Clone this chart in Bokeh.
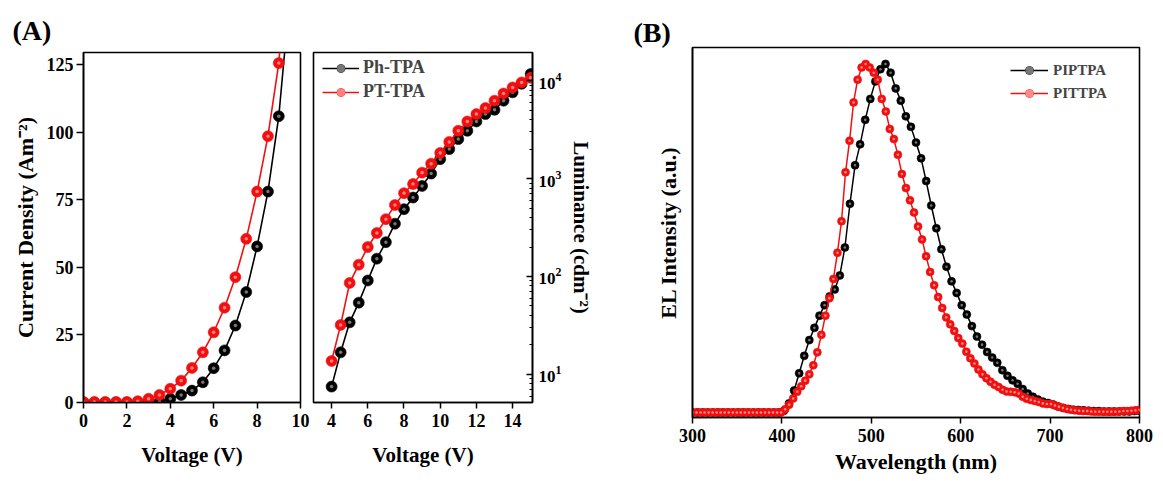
import numpy as np
from bokeh.plotting import figure
from bokeh.layouts import row, column
from bokeh.models import (Legend, LegendItem, SingleIntervalTicker,
                          LogTicker, Range1d, FixedTicker)
from bokeh.embed import file_html
from bokeh.resources import INLINE

FONT = "Liberation Serif"
RED = "#f01010"
BLACK = "#000000"

# ---------------- Panel A (left): current density ----------------
voltage_j = [0.0, 0.5, 1.0, 1.5, 2.0, 2.5, 3.0, 3.5, 4.0, 4.5, 5.0, 5.5,
             6.0, 6.5, 7.0, 7.5, 8.0, 8.5, 9.0, 9.5]
j_ph_tpa = [0.0, 0.0, 0.0, 0.0, 0.0, 0.0, 0.0, 0.3, 1.4, 2.8, 4.4, 7.5,
            12.7, 19.3, 28.5, 40.9, 57.8, 78.1, 106.0, 150.0]
j_pt_tpa = [0.2, 0.2, 0.2, 0.2, 0.2, 0.5, 1.4, 2.8, 5.1, 8.1, 12.8, 18.6,
            26.0, 35.1, 46.4, 60.6, 78.1, 98.6, 125.7, 175.0]

# ---------------- Panel A (right): luminance ----------------
voltage_l = [4.0, 4.5, 5.0, 5.5, 6.0, 6.5, 7.0, 7.5, 8.0, 8.5, 9.0, 9.5,
             10.0, 10.5, 11.0, 11.5, 12.0, 12.5, 13.0, 13.5, 14.0, 14.5, 15.0]
lum_ph_tpa = [7.5, 16.8, 34, 54, 91, 152, 224, 346, 487, 640, 841, 1125,
              1580, 2000, 2530, 3080, 3830, 4560, 5040, 6240, 7600, 9300, 11700]
lum_pt_tpa = [13.7, 32, 86, 132, 200, 278, 385, 537, 710, 880, 1150, 1420,
              1830, 2370, 3080, 3830, 4560, 5250, 6250, 7400, 8530, 9600, 10700]

# ---------------- Panel B: EL spectra ----------------
wl_piptpa = list(np.linspace(300, 800, 89))
el_piptpa = [0.003] * 18 + [
    0.008, 0.029, 0.066, 0.115, 0.165, 0.21, 0.245, 0.28, 0.31, 0.335,
    0.355, 0.395, 0.475, 0.60, 0.71, 0.77, 0.84, 0.90, 0.95, 0.985,
    1.0, 0.975, 0.93, 0.895, 0.85, 0.82, 0.775, 0.73, 0.665, 0.595,
    0.53, 0.47, 0.42, 0.378, 0.345, 0.31, 0.283, 0.25, 0.22, 0.197,
    0.176, 0.16, 0.145, 0.124, 0.108, 0.095, 0.085, 0.07, 0.057, 0.048,
    0.04, 0.034, 0.03, 0.026, 0.02, 0.016, 0.013, 0.011, 0.01, 0.009,
    0.008, 0.007, 0.007, 0.006, 0.006, 0.006, 0.006, 0.006, 0.006, 0.007,
    0.008]
wl_pittpa = list(np.linspace(300, 800, 112))
el_pittpa = [0.003] * 23 + [
    0.012, 0.025, 0.043, 0.062, 0.078, 0.094, 0.112, 0.138, 0.175, 0.225,
    0.28, 0.33, 0.385, 0.46, 0.55, 0.69, 0.78, 0.89, 0.955, 0.99,
    1.0, 0.99, 0.975, 0.955, 0.9, 0.864, 0.814, 0.785, 0.74, 0.685,
    0.645, 0.61, 0.575, 0.535, 0.498, 0.45, 0.405, 0.367, 0.333, 0.302,
    0.275, 0.255, 0.236, 0.216, 0.2, 0.177, 0.158, 0.143, 0.126, 0.112,
    0.101, 0.091, 0.082, 0.076, 0.068, 0.063, 0.062, 0.061, 0.057, 0.048,
    0.042, 0.039, 0.036, 0.033, 0.029, 0.027, 0.027, 0.023, 0.019, 0.016,
    0.013, 0.011, 0.009, 0.008, 0.007, 0.007, 0.006, 0.005, 0.005, 0.005,
    0.005, 0.005, 0.005, 0.006, 0.007, 0.007, 0.008, 0.009, 0.011]


def style_axis(ax, tick_size="18px", label_size="21px"):
    ax.axis_label_text_font = FONT
    ax.axis_label_text_font_style = "bold"
    ax.axis_label_text_font_size = label_size
    ax.axis_label_text_color = "black"
    ax.major_label_text_font = FONT
    ax.major_label_text_font_style = "bold"
    ax.major_label_text_font_size = tick_size
    ax.major_label_text_color = "black"
    ax.axis_line_width = 1.6
    ax.axis_line_color = "black"
    ax.major_tick_line_width = 1.5
    ax.major_tick_line_color = "black"
    ax.major_tick_out = 6
    ax.major_tick_in = 0
    ax.minor_tick_line_color = None


def base_fig(title_text, offset, standoff, **kw):
    p = figure(output_backend="svg", toolbar_location=None, title=title_text, **kw)
    p.grid.visible = False
    p.outline_line_color = "black"
    p.outline_line_width = 1.6
    p.outline_line_alpha = 1.0
    p.background_fill_color = "white"
    p.border_fill_color = "white"
    p.title.text_font = FONT
    p.title.text_font_style = "bold"
    p.title.text_font_size = "28px"
    p.title.text_color = "black"
    p.title.align = "left"
    p.title.offset = offset
    p.title.standoff = standoff
    return p


def series(p, x, y, color, hl, size, lw):
    ln = p.line(x, y, line_color=color, line_width=lw)
    sc = p.scatter(x, y, size=size, fill_color=color, line_color=color, line_width=0.6)
    hs = p.scatter(x, y, size=size * 0.32, fill_color=hl, line_color=None)
    return [ln, sc, hs]


# ---- figure 1 ----
p1 = base_fig("(A)", -71, 13, width=311, height=481,
              x_range=Range1d(0, 10), y_range=Range1d(0, 129.6),
              min_border_left=83, min_border_right=11, min_border_top=52, min_border_bottom=79)
style_axis(p1.xaxis[0])
style_axis(p1.yaxis[0], label_size="22px")
p1.xaxis.ticker = SingleIntervalTicker(interval=2)
p1.yaxis.ticker = SingleIntervalTicker(interval=25)
p1.xaxis.axis_label = "Voltage (V)"
p1.yaxis.axis_label = "Current Density (Am⁻²)"
p1.xaxis.axis_label_standoff = 13
p1.yaxis.axis_label_standoff = 6
p1.yaxis.major_tick_out = 7
p1.yaxis.major_label_standoff = 3
series(p1, voltage_j, j_ph_tpa, BLACK, "#777777", 11, 1.6)
series(p1, voltage_j, j_pt_tpa, RED, "#ff8080", 11, 1.6)

# ---- figure 2 ----
p2 = base_fig("", 0, 0, width=313, height=481,
              x_range=Range1d(3, 15.1), y_range=Range1d(5.16, 19400),
              y_axis_type="log", y_axis_location="right",
              min_border_left=2, min_border_right=92, min_border_top=52, min_border_bottom=79)
style_axis(p2.xaxis[0])
style_axis(p2.yaxis[0], tick_size="17px")
p2.xaxis.ticker = SingleIntervalTicker(interval=2)
p2.yaxis.ticker = LogTicker(num_minor_ticks=10)
p2.yaxis.major_tick_in = 6
p2.yaxis.major_tick_out = 0
p2.yaxis.minor_tick_line_color = "black"
p2.yaxis.minor_tick_line_width = 1.2
p2.yaxis.minor_tick_in = 3
p2.yaxis.minor_tick_out = 0
p2.yaxis.major_label_standoff = 6
p2.xaxis.axis_label = "Voltage (V)"
p2.yaxis.axis_label = "Luminance (cdm⁻²)"
p2.xaxis.axis_label_standoff = 13
p2.yaxis.axis_label_standoff = 5
r_ph = series(p2, voltage_l, lum_ph_tpa, BLACK, "#777777", 11, 1.6)
r_pt = series(p2, voltage_l, lum_pt_tpa, RED, "#ff8080", 11, 1.6)
leg_a = Legend(items=[LegendItem(label="Ph-TPA", renderers=r_ph),
                      LegendItem(label="PT-TPA", renderers=r_pt)],
               location=(9, 300), label_text_font=FONT, label_text_font_style="bold",
               label_text_font_size="18px", glyph_width=37, glyph_height=20,
               label_height=20, spacing=3, padding=0, margin=0, label_standoff=4,
               border_line_color=None, background_fill_alpha=0)
p2.add_layout(leg_a)

# ---- figure 3 ----
p3 = base_fig("(B)", -59, 0, width=539, height=481,
              x_range=Range1d(300, 800), y_range=Range1d(-0.0114, 1.047),
              min_border_left=68, min_border_right=24, min_border_top=47, min_border_bottom=64)
style_axis(p3.xaxis[0], label_size="22px")
style_axis(p3.yaxis[0], label_size="22px")
p3.xaxis.ticker = SingleIntervalTicker(interval=100)
p3.xaxis.axis_label = "Wavelength (nm)"
p3.xaxis.axis_label_standoff = 4
p3.yaxis.axis_label = "EL Intensity (a.u.)"
p3.yaxis.ticker = FixedTicker(ticks=[])
p3.yaxis.axis_label_standoff = 12
r_b = series(p3, wl_piptpa, el_piptpa, BLACK, "#777777", 8, 1.5)
r_r = series(p3, wl_pittpa, el_pittpa, RED, "#ff8a8a", 8, 1.5)
leg_b = Legend(items=[LegendItem(label="PIPTPA", renderers=r_b),
                      LegendItem(label="PITTPA", renderers=r_r)],
               location=(318, 314), label_text_font=FONT, label_text_font_style="bold",
               label_text_font_size="15px", glyph_width=38, glyph_height=20,
               label_height=20, spacing=3, padding=0, margin=0, label_standoff=5,
               border_line_color=None, background_fill_alpha=0)
p3.add_layout(leg_b)

layout = row(row(p1, p2, spacing=0), column(p3), spacing=0)
open("out.html", "w").write(file_html(layout, INLINE))
